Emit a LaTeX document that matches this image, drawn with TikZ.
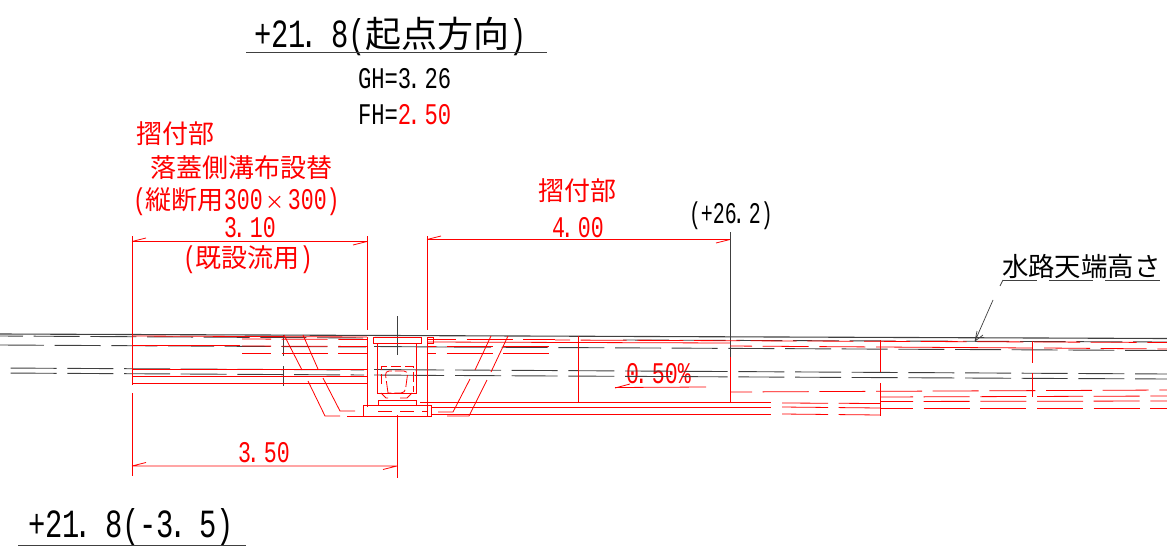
\documentclass[tikz,border=0pt]{standalone}
\usepackage{fontspec}
\setmainfont{Noto Sans CJK JP}
\newfontfamily\hwfont[FakeStretch=0.72]{Liberation Mono}
\newfontfamily\hwnfont[FakeStretch=0.665]{Liberation Mono}
\newfontfamily\hwwfont[FakeStretch=0.74]{Liberation Mono}
\newcommand{\hwa}[1]{{\fontsize{30}{30}\selectfont\hwfont #1}}
\newcommand{\hwn}[1]{{\fontsize{30}{30}\selectfont\hwnfont #1}}
\newcommand{\hww}[1]{{\fontsize{30}{30}\selectfont\hwwfont #1}}
\newcommand{\hwb}[1]{{\fontsize{40}{40}\selectfont\hwfont #1}}
% a full stop set to the left of its cell
\newcommand{\dota}{\kern-4pt.\kern4pt}
\newcommand{\dotb}{\kern-5pt.\kern13pt}
\tikzset{
  x=1pt,y=-1pt,
  redl/.style={draw=red,line width=0.8pt},
  blkl/.style={draw=black!75,line width=0.9pt},
  long/.style={dash pattern=on 46pt off 10.67pt},
  txt/.style={anchor=base west,inner sep=0pt,outer sep=0pt,font=\fontsize{26}{26}\selectfont},
  bigtxt/.style={anchor=base west,inner sep=0pt,outer sep=0pt,font=\fontsize{36}{36}\selectfont},
  redt/.style={txt,text=red},
  blkt/.style={txt,text=black}
}
\begin{document}
\begin{tikzpicture}
\useasboundingbox (0,0) rectangle (1167,557);
\fill[white] (0,0) rectangle (1167,557);
% ---- texts
\node[bigtxt] (title) at (254,47) {\hwb{+21\dotb8(}起点方向\hwb{)}};
\draw[blkl] (246,52.5) -- (547,52.5);
\node[blkt] (gh) at (358,88) {\hww{GH=3\dota26}};
\node[blkt] (fh) at (358,124) {\hww{FH=}\textcolor{red}{\hww{2\dota50}}};
\node[redt] (s1) at (136,143) {摺付部};
\node[redt] (s2) at (150,177) {落蓋側溝布設替};
\node[redt] (s3) at (133,209) {\hwa{(}縦断用\hwa{300}{\fontsize{19}{19}\selectfont\kern3pt×\kern3pt}\hwa{300)}};
\node[redt] (d310) at (224,237) {\hwa{3\dota10}};
\node[redt] (s4) at (183,267) {\hwa{(}既設流用\hwa{)}};
\node[redt] (s5) at (538,200) {摺付部};
\node[redt] (d400) at (552,237) {\hwa{4\dota00}};
\node[blkt] (p262) at (689,223) {\hwn{(+26\dota2)}};
\node[redt] (d350) at (238,462) {\hwa{3\dota50}};
\node[redt] (pc) at (626,383) {\hwa{0\dota50\%}};
\node[blkt,font=\fontsize{26.4}{26.4}\selectfont] (wt) at (1002,276) {水路天端高さ};
\node[bigtxt] (bt) at (28,537) {\hwb{+21\dotb8(-3\dotb5)}};
\draw[blkl] (18,545.5) -- (246,545.5);
% ---- underline of water label and leader
\coordinate (la) at (975,341);
\draw[blkl] (1003,280) -- (1037,280) (1049,280) -- (1093,280) (1105,280) -- (1160,280);
\draw[blkl,line width=0.7pt] (1003,280) -- (1000,286) (993,300) -- (la) (la) -- (977,331) (la) -- (983,335);
% ---- black long lines
\draw[blkl,line width=1.1pt] (0,334) -- (1167,338.5);
\draw[blkl,long,dash phase=23] (0,336) -- (366,338);
\draw[blkl,long,dash phase=2] (0,345) -- (366,347);
\draw[blkl,long,dash phase=46] (0,368) -- (364,370);
\draw[blkl,long,dash phase=46] (0,373) -- (364,375);
\draw[blkl,long] (623,340) -- (1167,342);
\draw[blkl,long] (445,347) -- (1167,350.5);
\draw[blkl] (374,346.5) -- (445,347);
\draw[blkl] (374,369.5) -- (444,370);
\draw[blkl] (374,375) -- (444,375.5);
\draw[blkl,long] (455,370) -- (1167,374);
\draw[blkl,long] (455,375.5) -- (1167,379);
% black verticals
\draw[blkl] (397,316) -- (397,355);
\draw[blkl] (283,335) -- (283,356) (283,366) -- (283,386);
\draw[blkl] (730,232) -- (730,357);
\draw[blkl] (132,312) -- (132,385);
% ---- dimensions
\draw[redl] (132,241.5) -- (367,241.5) (132,241.5) -- (146,238) (367,241.5) -- (353,245);
\draw[redl] (132,236) -- (132,385) (132,393) -- (132,476);
\draw[redl] (367,236) -- (367,330) (367,337) -- (367,407);
\draw[redl] (427,239.5) -- (730,239.5) (427,239.5) -- (441,236) (730,239.5) -- (716,243);
\draw[redl] (427,236) -- (427,330) (427,337) -- (427,416);
\draw[redl] (132,466) -- (397,466) (132,466) -- (146,462.5) (397,466) -- (383,469.5);
\draw[redl] (397,415) -- (397,478);
% ---- red solid left
\draw[redl] (132,336) -- (367,337);
\draw[redl] (132,345) -- (240,345);
\draw[redl] (132,369) -- (367,369) (132,376) -- (367,376) (132,383) -- (367,383);
% red dashes left
\draw[redl,long,dash phase=17] (242,339) -- (367,339.5);
\draw[redl,long,dash phase=17] (242,346) -- (367,346.5);
\draw[redl,long,dash phase=17] (242,353) -- (367,353);
% red left slants
\draw[redl] (284,335) -- (302,370) (308,381) -- (325,416) -- (340,416);
\draw[redl] (303,335) -- (318,369) (323,378) -- (340,411) -- (355,411);
\draw[redl] (347,416) -- (363,416);
% ---- flume structure
\draw[redl] (373,337) -- (421,337) -- (421,343) -- (373,343) -- cycle;
\draw[redl] (377,343) -- (377,393) -- (416,393) -- (416,343);
\draw[redl] (381,393) -- (386,398) -- (388,398) (412,393) -- (407,398) -- (400,398);
\draw[redl,dash pattern=on 10pt off 4pt] (381,384) -- (381,366) -- (413,366) -- (413,392);
\draw[redl,dash pattern=on 12pt off 3pt,rounded corners=4pt] (388,393) -- (385,371) -- (408,371) -- (405,393) -- (388,393);
\draw[redl] (378,400) -- (416,400) (378,400) -- (378,405) (416,400) -- (416,405);
\draw[redl] (363,405) -- (431,405) -- (431,416) -- (363,416) -- cycle;
\draw[redl,dash pattern=on 14pt off 8pt] (378,411) -- (427,411);
\draw[redl] (420,402.5) -- (771,402.5);
\draw[redl] (431,407) -- (771,407);
\draw[redl] (431,414.5) -- (771,414.5);
% right-of-flume rows
\draw[redl] (427,342) -- (730,343);
\draw[redl,long,dash phase=17] (427,339) -- (555,339);
\draw[redl,long,dash phase=37] (427,346) -- (555,346);
\draw[redl,long,dash phase=37] (427,353) -- (555,353);
\draw[redl] (427,337) -- (433,337) -- (433,343) -- (427,343);
% right slants
\draw[redl] (491,336) -- (475,370) (470,379) -- (453,412) -- (438,412);
\draw[redl] (508,336) -- (491,372) (487,380) -- (469,416) -- (447,416);
% vertical red right
\draw[redl] (578,336) -- (578,403);
\draw[redl] (730,357) -- (730,403);
\draw[redl] (880,340) -- (880,372) (880,383) -- (880,416);
\draw[redl] (1032,341) -- (1032,363) (1032,373) -- (1032,397);
\draw[redl] (880,347) -- (1032,348);
% percentage leader
\draw[redl] (615,388) -- (630,384) (615,387.5) -- (706,387);
% red long dashes right
\draw[redl,long,dash phase=31] (555,340) -- (1167,342.5);
\draw[redl,long,dash phase=24] (730,346) -- (880,347);
\draw[redl,long,dash phase=0] (1044,348) -- (1167,349);
\draw[redl,long,dash phase=24] (730,392) -- (1167,390);
\foreach \yy/\zz in {403/403.5,407/408,414/415}{
  \draw[redl,long] (782,\yy) -- (880,\zz);
}
\foreach \yy/\zz in {397/396,401.5/401,408/408}{
  \draw[redl,long,dash phase=13] (880,\yy) -- (1167,\zz);
}
\end{tikzpicture}
\end{document}
